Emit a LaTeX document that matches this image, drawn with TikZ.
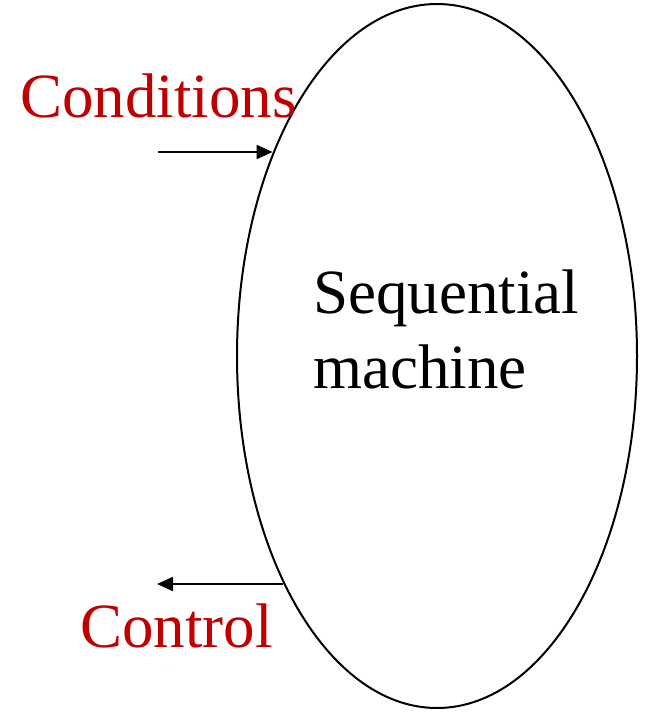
\documentclass[tikz,border=0pt]{standalone}
\usepackage{fontspec}
\setmainfont{Liberation Serif}
\usetikzlibrary{arrows.meta,shapes.geometric}
\definecolor{sigred}{HTML}{C00000}

\begin{document}
\begin{tikzpicture}[
  x=0.5pt, y=-0.5pt,
  machine/.style={ellipse, draw=black, line width=1pt,
                  minimum width=200pt, minimum height=352pt, inner sep=0pt},
  body/.style={font=\fontsize{31.5}{37.5}\selectfont, align=left,
               inner sep=0pt, text=black},
  signal/.style={font=\fontsize{31.5}{37.5}\selectfont, inner sep=0pt,
                 text=sigred},
  wire/.style={-{Triangle[length=8pt, width=7pt]}, line width=1pt},
]
  \useasboundingbox (0,0) rectangle (650,712);

  %% The machine itself
  \node[machine] (seq) at (437,356) {};
  \node[body, anchor=base west] (seqtext) at (313,388) {Sequential\\machine};

  %% Input side
  \node[signal, anchor=base west] (cond) at (20,117) {Conditions};
  \coordinate (condin) at (158,152);
  \draw[wire] (condin) -- (condin -| seq.129);

  %% Output side
  \node[signal, anchor=base west] (ctl) at (80,647) {Control};
  \coordinate (ctlout) at (157,584);
  \draw[wire] (ctlout -| seq.236) -- (ctlout);

\end{tikzpicture}
\end{document}
